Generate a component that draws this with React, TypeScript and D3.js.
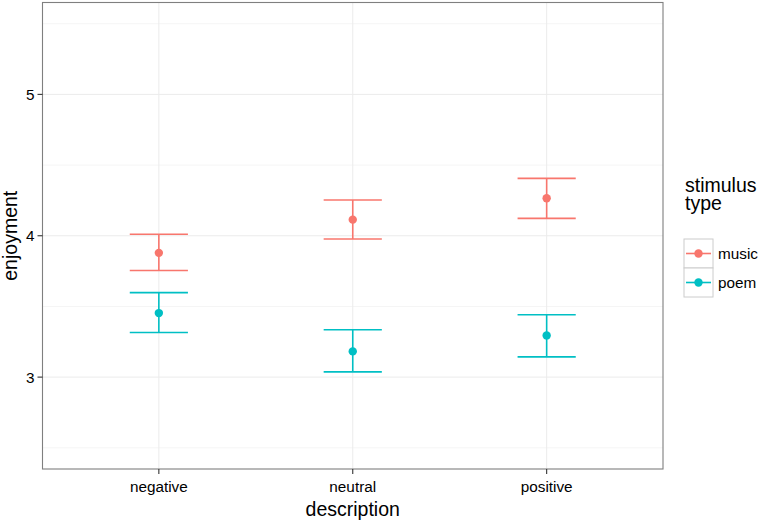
import * as d3 from "d3";

const categories = ["negative", "neutral", "positive"];
const seriesNames = ["music", "poem"];
const seriesColors = ["#F8766D", "#00BFC4"];

const musicMean = [3.879, 4.114, 4.265];
const musicLow = [3.754, 3.977, 4.123];
const musicHigh = [4.011, 4.253, 4.406];

const poemMean = [3.453, 3.182, 3.295];
const poemLow = [3.316, 3.037, 3.143];
const poemHigh = [3.598, 3.335, 3.441];

const yTicks = [3, 4, 5];
const yMinorTicks = [2.5, 3.5, 4.5, 5.5];

const WIDTH = 760;
const HEIGHT = 521;
const PANEL = { left: 42.5, right: 663, top: 2.5, bottom: 469 };
const FONT = "'Liberation Sans', Arial, sans-serif";

export default function App() {
  // discrete x scale with ggplot's 0.6 expansion
  const xScale = d3
    .scaleLinear()
    .domain([0.4, categories.length + 0.6])
    .range([PANEL.left, PANEL.right]);
  const xPos = (i: number) => xScale(i + 1);

  const yScale = d3.scaleLinear().domain([2.35, 5.65]).range([PANEL.bottom, PANEL.top]);

  const series = [
    { name: seriesNames[0], color: seriesColors[0], mean: musicMean, low: musicLow, high: musicHigh },
    { name: seriesNames[1], color: seriesColors[1], mean: poemMean, low: poemLow, high: poemHigh },
  ];

  const halfBar = xScale(0.15) - xScale(0);

  return (
    <svg
      width={WIDTH}
      height={HEIGHT}
      style={{ position: "absolute", left: 0, top: 0, background: "white" }}
      fontFamily={FONT}
    >
      {/* grid */}
      {yMinorTicks.map((t) => (
        <line key={"mn" + t} x1={PANEL.left} x2={PANEL.right} y1={yScale(t)} y2={yScale(t)} stroke="#F5F5F5" strokeWidth={1} />
      ))}
      {yTicks.map((t) => (
        <line key={"mj" + t} x1={PANEL.left} x2={PANEL.right} y1={yScale(t)} y2={yScale(t)} stroke="#EBEBEB" strokeWidth={1} />
      ))}
      {categories.map((c, i) => (
        <line key={"vx" + c} x1={xPos(i)} x2={xPos(i)} y1={PANEL.top} y2={PANEL.bottom} stroke="#EBEBEB" strokeWidth={1} />
      ))}

      {/* error bars and points */}
      {series.map((s) => (
        <g key={s.name}>
          {categories.map((c, i) => {
            const x = xPos(i);
            return (
              <g key={c} stroke={s.color} strokeWidth={1.6}>
                <line x1={x - halfBar} x2={x + halfBar} y1={yScale(s.high[i])} y2={yScale(s.high[i])} />
                <line x1={x - halfBar} x2={x + halfBar} y1={yScale(s.low[i])} y2={yScale(s.low[i])} />
                <line x1={x} x2={x} y1={yScale(s.high[i])} y2={yScale(s.low[i])} />
                <circle cx={x} cy={yScale(s.mean[i])} r={4.2} fill={s.color} stroke="none" />
              </g>
            );
          })}
        </g>
      ))}

      {/* panel border */}
      <rect
        x={PANEL.left}
        y={PANEL.top}
        width={PANEL.right - PANEL.left}
        height={PANEL.bottom - PANEL.top}
        fill="none"
        stroke="#7F7F7F"
        strokeWidth={1.1}
      />

      {/* y axis */}
      {yTicks.map((t) => (
        <g key={"yt" + t}>
          <line x1={PANEL.left - 5} x2={PANEL.left} y1={yScale(t)} y2={yScale(t)} stroke="#333" strokeWidth={1.1} />
          <text x={PANEL.left - 8} y={yScale(t)} textAnchor="end" dominantBaseline="central" fontSize={15.3} fill="#000">
            {t}
          </text>
        </g>
      ))}

      {/* x axis */}
      {categories.map((c, i) => (
        <g key={"xt" + c}>
          <line x1={xPos(i)} x2={xPos(i)} y1={PANEL.bottom} y2={PANEL.bottom + 5} stroke="#333" strokeWidth={1.1} />
          <text x={xPos(i)} y={492} textAnchor="middle" fontSize={15.3} fill="#000">
            {c}
          </text>
        </g>
      ))}

      {/* axis titles */}
      <text x={(PANEL.left + PANEL.right) / 2} y={515.5} textAnchor="middle" fontSize={19.5} fill="#000">
        description
      </text>
      <text
        transform={`translate(17, ${(PANEL.top + PANEL.bottom) / 2}) rotate(-90)`}
        textAnchor="middle"
        fontSize={19.5}
        fill="#000"
      >
        enjoyment
      </text>

      {/* legend */}
      <text x={685} y={191.5} fontSize={19.5} fill="#000">
        stimulus
      </text>
      <text x={685} y={209.5} fontSize={19.5} fill="#000">
        type
      </text>
      {series.map((s, i) => {
        const top = 239 + i * 29;
        return (
          <g key={"lg" + s.name}>
            <rect x={684} y={top} width={29} height={29} fill="white" stroke="#CCCCCC" strokeWidth={1} />
            <line x1={686} x2={711} y1={top + 14.5} y2={top + 14.5} stroke={s.color} strokeWidth={1.6} />
            <circle cx={698.5} cy={top + 14.5} r={4.2} fill={s.color} />
            <text x={718} y={top + 14.5} dominantBaseline="central" fontSize={15.3} fill="#000">
              {s.name}
            </text>
          </g>
        );
      })}
    </svg>
  );
}
